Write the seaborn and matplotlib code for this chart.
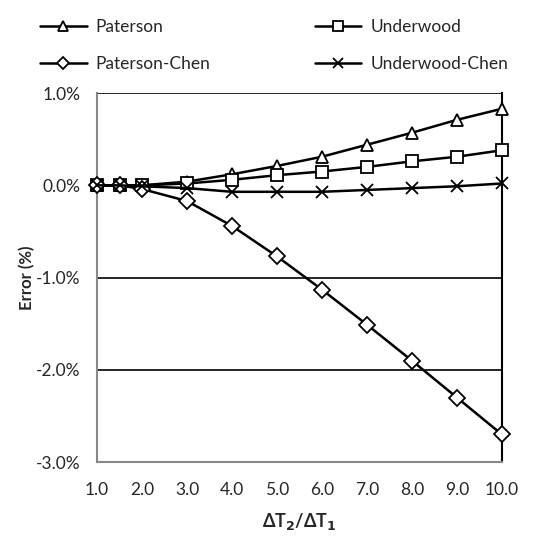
import seaborn as sns
import pandas as pd
import matplotlib.pyplot as plt
from matplotlib.ticker import FuncFormatter

ratio = [1.0, 1.5, 2.0, 3.0, 4.0, 5.0, 6.0, 7.0, 8.0, 9.0, 10.0]
paterson = [0.0, 0.0, 0.0, 0.04, 0.12, 0.21, 0.31, 0.44, 0.57, 0.71, 0.83]
underwood = [0.0, 0.0, 0.0, 0.02, 0.06, 0.11, 0.15, 0.20, 0.26, 0.31, 0.38]
paterson_chen = [0.0, 0.0, -0.04, -0.17, -0.44, -0.77, -1.13, -1.51, -1.90, -2.30, -2.70]
underwood_chen = [0.0, 0.0, -0.01, -0.03, -0.07, -0.07, -0.07, -0.05, -0.03, -0.01, 0.02]

series = {
    'Paterson': (paterson, '^'),
    'Underwood': (underwood, 's'),
    'Paterson-Chen': (paterson_chen, 'D'),
    'Underwood-Chen': (underwood_chen, 'x'),
}

sns.set_style('white')
plt.rcParams['font.family'] = ['Lato', 'DejaVu Sans']

fig = plt.figure(figsize=(5.42, 5.38), dpi=100)
ax = fig.add_axes([0.179, 0.141, 0.747, 0.686])

for y in [1.0, -1.0, -2.0]:
    ax.axhline(y, color='black', lw=1.2, zorder=0)

for name, (vals, mk) in series.items():
    df = pd.DataFrame({'x': ratio, 'y': vals})
    ms = 9 if mk != 'D' else 8
    sns.lineplot(data=df, x='x', y='y', ax=ax, color='black', lw=1.8,
                 marker=mk, markersize=ms, markerfacecolor='white',
                 markeredgecolor='black', markeredgewidth=1.3, label=name,
                 clip_on=False, zorder=3)

ax.set_xlim(1, 10)
ax.set_ylim(-3, 1)
ax.set_xticks(range(1, 11))
ax.set_yticks([1, 0, -1, -2, -3])
ax.xaxis.set_major_formatter(FuncFormatter(lambda v, p: f'{v:.1f}'))
ax.yaxis.set_major_formatter(FuncFormatter(lambda v, p: f'{v:.1f}%'))
ax.tick_params(axis='x', direction='in', length=5, color='#888888', labelsize=12.5, pad=14)
ax.tick_params(axis='y', length=0, labelsize=12.5, pad=12)

for s in ['left', 'bottom']:
    ax.spines[s].set_color('#888888')
    ax.spines[s].set_linewidth(1.5)
ax.spines['top'].set_visible(False)
ax.spines['right'].set_color('black')
ax.spines['right'].set_linewidth(1.5)

ax.set_xlabel('ΔT$_\\mathbf{2}$/ΔT$_\\mathbf{1}$', fontsize=13, fontweight='bold', labelpad=10)
ax.set_ylabel('Error (%)', fontsize=12, fontweight='bold', labelpad=0)

handles, labels = ax.get_legend_handles_labels()
order = [0, 2, 1, 3]
ax.legend_.remove()
fig.legend([handles[i] for i in order], [labels[i] for i in order],
           loc='upper left', bbox_to_anchor=(0.045, 0.994), ncol=2,
           frameon=False, fontsize=12.5, handlelength=2.7, columnspacing=6.0,
           labelspacing=1.22, handletextpad=0.5, markerscale=0.75)

fig.savefig('out.png', dpi=100)
